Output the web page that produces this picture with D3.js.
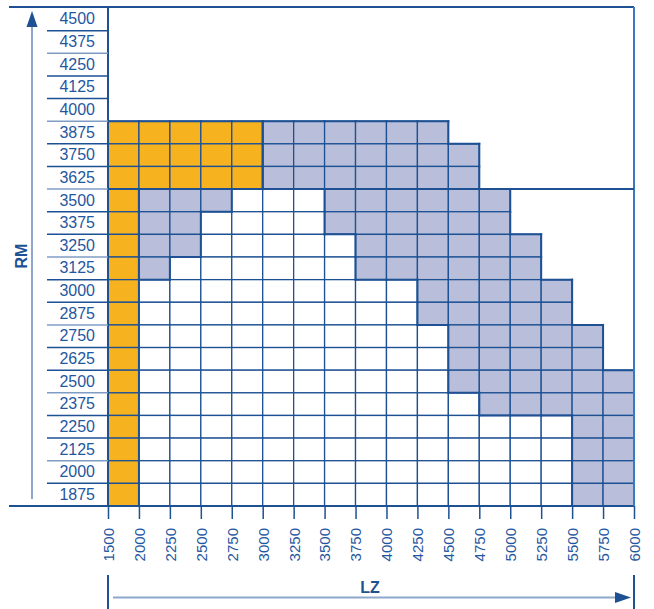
<!DOCTYPE html>
<html><head><meta charset="utf-8">
<script src="https://cdn.jsdelivr.net/npm/d3@7"></script>
<style>body{margin:0;background:#fff}svg{display:block}</style>
</head><body><svg id="c" width="654" height="609"></svg>
<script>
// ---- data ----
const lzTicks = [1500,2000,2250,2500,2750,3000,3250,3500,3750,4000,4250,4500,4750,5000,5250,5500,5750,6000];
const rmRows = [4500,4375,4250,4125,4000,3875,3750,3625,3500,3375,3250,3125,3000,2875,2750,2625,2500,2375,2250,2125,2000,1875];
// last LZ value of drawn cells in each RM row
const rowMaxRm  = [3875,3750,3625,3500,3375,3250,3125,3000,2875,2750,2625,2500,2375,2250,2125,2000,1875];
const rowMaxLz  = [4500,4750,4750,5000,5000,5250,5250,5500,5500,5750,5750,6000,6000,6000,6000,6000,6000];
// zones: [rm, from LZ, to LZ]
const orangeZones = [
  [3875,1500,3000],[3750,1500,3000],[3625,1500,3000],
  [3500,1500,2000],[3375,1500,2000],[3250,1500,2000],[3125,1500,2000],[3000,1500,2000],
  [2875,1500,2000],[2750,1500,2000],[2625,1500,2000],[2500,1500,2000],[2375,1500,2000],
  [2250,1500,2000],[2125,1500,2000],[2000,1500,2000],[1875,1500,2000]
];
const grayZones = [
  [3875,3000,4500],[3750,3000,4750],[3625,3000,4750],
  [3500,2000,2750],[3500,3500,5000],
  [3375,2000,2500],[3375,3500,5000],
  [3250,2000,2500],[3250,3750,5250],
  [3125,2000,2250],[3125,3750,5250],
  [3000,4250,5500],[2875,4250,5500],
  [2750,4500,5750],[2625,4500,5750],
  [2500,4500,6000],[2375,4750,6000],
  [2250,5500,6000],[2125,5500,6000],[2000,5500,6000],[1875,5500,6000]
];

// ---- drawing ----
const dark = "#1d5194", textC = "#1f57a0", light = "#8ca8cc";
const svg = d3.select("#c");
const x = d3.scalePoint().domain(lzTicks).range([108,634]);
const y = d3.scaleBand().domain(rmRows).range([8,506]);
const idx = v => lzTicks.indexOf(v);

function zoneOf(rm, lzStart){
  const i = idx(lzStart);
  const inZ = z => z[0]===rm && i>=idx(z[1]) && i<idx(z[2]);
  if (orangeZones.some(inZ)) return "o";
  if (grayZones.some(inZ)) return "g";
  return "w";
}
const cells = [];
rowMaxRm.forEach((rm,k)=>{
  const end = idx(rowMaxLz[k]);
  for(let i=0;i<end;i++){
    cells.push({rm, a:lzTicks[i], b:lzTicks[i+1], z:zoneOf(rm, lzTicks[i])});
  }
});
const fills = {o:"#f6b21f", g:"#b9bfda", w:"#ffffff"};
svg.append("g").selectAll("rect").data(cells).join("rect")
  .attr("x", d=>x(d.a)).attr("y", d=>y(d.rm))
  .attr("width", d=>x(d.b)-x(d.a)).attr("height", y.bandwidth())
  .attr("fill", d=>fills[d.z]).attr("stroke", dark).attr("stroke-width",1.3);

// outline of gray / orange regions (thicker)
const key = (rm,a)=>rm+"_"+a;
const map = new Map(cells.map(c=>[key(c.rm,c.a),c]));
const segs = [];
cells.filter(c=>c.z!=="w").forEach(c=>{
  const ri = rmRows.indexOf(c.rm), ci = idx(c.a);
  const nb = (dr,dc)=>{const r=rmRows[ri+dr], a=lzTicks[ci+dc]; const m = (r!==undefined&&a!==undefined)?map.get(key(r,a)):null; return m?m.z:null;};
  const x0=x(c.a), x1=x(c.b), y0=y(c.rm), y1=y0+y.bandwidth();
  if(nb(-1,0)!==c.z) segs.push([x0,y0,x1,y0]);
  if(nb(1,0)!==c.z) segs.push([x0,y1,x1,y1]);
  if(nb(0,-1)!==c.z) segs.push([x0,y0,x0,y1]);
  if(nb(0,1)!==c.z) segs.push([x1,y0,x1,y1]);
});
svg.append("g").selectAll("line").data(segs).join("line")
  .attr("x1",d=>d[0]).attr("y1",d=>d[1]).attr("x2",d=>d[2]).attr("y2",d=>d[3])
  .attr("stroke", dark).attr("stroke-width",2).attr("stroke-linecap","square");

// frame
const fr = svg.append("g").attr("stroke", dark).attr("stroke-width",2);
fr.append("line").attr("x1",9).attr("x2",634).attr("y1",7).attr("y2",7);
fr.append("line").attr("x1",9).attr("x2",634).attr("y1",506).attr("y2",506);
fr.append("line").attr("x1",108).attr("x2",108).attr("y1",7).attr("y2",506);
fr.append("line").attr("x1",634).attr("x2",634).attr("y1",7).attr("y2",506).attr("stroke","#3a78c0");
fr.append("line").attr("x1",108).attr("x2",634).attr("y1",y(3500)).attr("y2",y(3500));

// row separators in label column
svg.append("g").selectAll("line").data(rmRows.slice(1)).join("line")
  .attr("x1",47).attr("x2",108).attr("y1",d=>y(d)).attr("y2",d=>y(d))
  .attr("stroke", (d,i)=> i%3===1 ? "#7f9cc4" : dark).attr("stroke-width",1.5);

// y labels
const ya = svg.append("g").attr("transform","translate(108,0)")
  .call(d3.axisLeft(y).tickSize(0).tickPadding(13));
ya.select(".domain").remove();
ya.selectAll("text").attr("fill",textC).attr("font-size",16)
  .attr("font-family","Liberation Sans, Arial, sans-serif");

// x axis
const xa = svg.append("g").attr("transform","translate(0,506)")
  .call(d3.axisBottom(x).tickSize(13).tickFormat(d3.format("d")));
xa.select(".domain").remove();
xa.selectAll("line").attr("stroke",dark).attr("stroke-width",1.5);
xa.selectAll("text").attr("transform","rotate(-90)")
  .attr("x",-22).attr("y",0).attr("dy","0.36em").attr("text-anchor","end")
  .attr("fill",textC).attr("font-size",15)
  .attr("font-family","Liberation Sans, Arial, sans-serif");

// RM arrow
svg.append("line").attr("x1",32).attr("x2",32).attr("y1",24).attr("y2",499)
  .attr("stroke",light).attr("stroke-width",2);
svg.append("path").attr("d","M32,11 L26.5,27 L37.5,27 Z").attr("fill",dark);
svg.append("text").attr("transform","translate(27,256) rotate(-90)")
  .attr("text-anchor","middle").attr("font-weight","bold").attr("font-size",16)
  .attr("font-family","Liberation Sans, Arial, sans-serif").attr("fill",dark).text("RM");

// LZ arrow
svg.append("line").attr("x1",108).attr("x2",108).attr("y1",575).attr("y2",609).attr("stroke",dark).attr("stroke-width",2);
svg.append("line").attr("x1",634).attr("x2",634).attr("y1",575).attr("y2",609).attr("stroke",dark).attr("stroke-width",2);
svg.append("line").attr("x1",113).attr("x2",618).attr("y1",597.5).attr("y2",597.5).attr("stroke",light).attr("stroke-width",2);
svg.append("path").attr("d","M631,597.5 L615,592 L615,603 Z").attr("fill",dark);
svg.append("text").attr("x",370).attr("y",593).attr("text-anchor","middle")
  .attr("font-weight","bold").attr("font-size",16)
  .attr("font-family","Liberation Sans, Arial, sans-serif").attr("fill",dark).text("LZ");
</script></body></html>
